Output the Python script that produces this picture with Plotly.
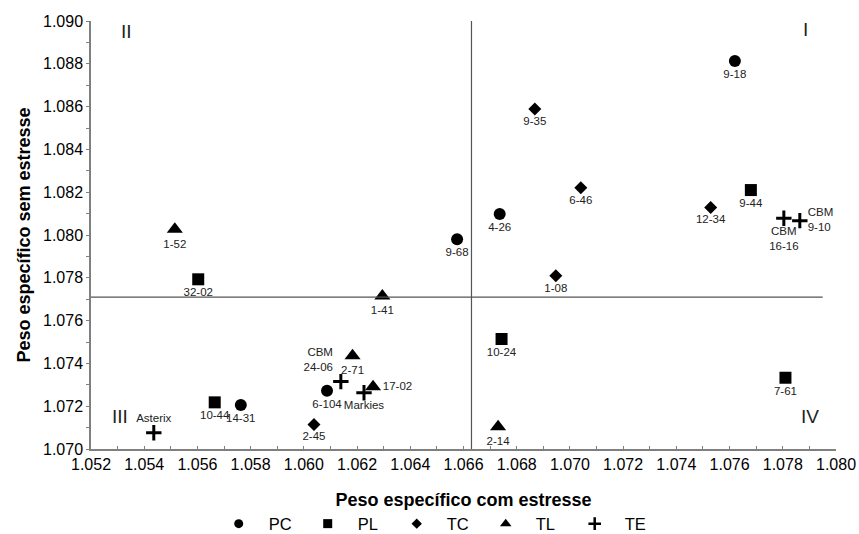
import plotly.graph_objects as go

# ---- data ----
pc_x = [1.0762, 1.06736, 1.06576, 1.05763, 1.06087]
pc_y = [1.08813, 1.08098, 1.0798, 1.07206, 1.07272]
pc_lbl = ["9-18", "4-26", "9-68", "14-31", "6-104"]

pl_x = [1.0768, 1.05603, 1.05665, 1.06743, 1.0781]
pl_y = [1.0821, 1.07793, 1.07218, 1.07514, 1.07333]
pl_lbl = ["9-44", "32-02", "10-44", "10-24", "7-61"]

tc_x = [1.06868, 1.07041, 1.07529, 1.06947, 1.06038]
tc_y = [1.08589, 1.08221, 1.08129, 1.0781, 1.07115]
tc_lbl = ["9-35", "6-46", "12-34", "1-08", "2-45"]

tl_x = [1.05515, 1.06295, 1.06183, 1.0626, 1.0673]
tl_y = [1.08027, 1.07715, 1.07436, 1.07291, 1.07104]
tl_lbl = ["1-52", "1-41", "2-71", "17-02", "2-14"]

te_x = [1.07864, 1.07804, 1.05436, 1.06139, 1.06226]
te_y = [1.08067, 1.08078, 1.07076, 1.07315, 1.07263]
te_lbl = ["CBM<br>9-10", "CBM<br>16-16", "Asterix", "CBM<br>24-06", "Markies"]

x_ref_line = 1.0663
y_ref_line = 1.0771

x_range = [1.052, 1.080]
y_range = [1.070, 1.090]

quadrants = [("II", 1.05334, 1.08949), ("I", 1.07886, 1.08958),
             ("III", 1.05308, 1.07151), ("IV", 1.07904, 1.07151)]

# ---- label placement (style) ----
label_pos = {
    "CBM<br>9-10": "middle right",
    "Asterix": "top center",
    "CBM<br>24-06": "top left",
    "17-02": "middle right",
}

FONT = "Liberation Sans, Arial, sans-serif"

# name, x, y, labels, symbol, size, legend size
series = [
    ("PC", pc_x, pc_y, pc_lbl, "circle", 12, 9),
    ("PL", pl_x, pl_y, pl_lbl, "square", 12, 9),
    ("TC", tc_x, tc_y, tc_lbl, "diamond", 10, 8),
    ("TL", tl_x, tl_y, tl_lbl, "triangle-up", 14, 10),
    ("TE", te_x, te_y, te_lbl, "cross-thin", 11, 9),
]

fig = go.Figure()

for name, xs, ys, lbls, sym, size, lsize in series:
    is_cross = sym == "cross-thin"
    fig.add_trace(go.Scatter(
        x=xs, y=ys, mode="markers+text", name=name,
        text=lbls,
        textposition=[label_pos.get(l, "bottom center") for l in lbls],
        textfont=dict(family=FONT, size=11.5, color="#222222"),
        marker=dict(symbol=sym, size=size, color="black",
                    line=dict(color="black", width=3 if is_cross else 0)),
        cliponaxis=False,
        showlegend=False,
    ))

for name, xs, ys, lbls, sym, size, lsize in series:
    is_cross = sym == "cross-thin"
    fig.add_trace(go.Scatter(
        x=[None], y=[None], mode="markers", name=name,
        marker=dict(symbol=sym, size=lsize, color="black",
                    line=dict(color="black", width=2.5 if is_cross else 0)),
        showlegend=True,
    ))

# reference lines
fig.add_shape(type="line", xref="x", yref="y", x0=x_ref_line, x1=x_ref_line,
              y0=y_range[0], y1=y_range[1], line=dict(color="#555555", width=1.2))
fig.add_shape(type="line", xref="x", yref="y", x0=x_range[0], x1=1.0795,
              y0=y_ref_line, y1=y_ref_line, line=dict(color="#555555", width=1.2))

for txt, qx, qy in quadrants:
    fig.add_annotation(x=qx, y=qy, xref="x", yref="y", text=txt, showarrow=False,
                       font=dict(family=FONT, size=19, color="#222222"))

fig.update_layout(
    width=859, height=534,
    margin=dict(l=91, r=23, t=21, b=85, autoexpand=False),
    paper_bgcolor="white", plot_bgcolor="white",
    font=dict(family=FONT, color="black"),
    legend=dict(orientation="h", x=0.158, y=-0.175, xanchor="left", yanchor="middle",
                font=dict(family=FONT, size=16.5, color="black"),
                itemwidth=50, entrywidth=24, entrywidthmode="pixels",
                itemsizing="trace", bgcolor="rgba(0,0,0,0)"),
    xaxis=dict(range=x_range, showgrid=False, zeroline=False, automargin=False,
               showline=True, linecolor="#808080", linewidth=1.5,
               ticks="inside", ticklen=3, tickcolor="#808080",
               tick0=1.052, dtick=0.002, tickformat=".3f",
               minor=dict(dtick=0.001, ticks="inside", ticklen=3, tickcolor="#808080"),
               tickfont=dict(family=FONT, size=16, color="black"),
               title=dict(text="<b>Peso específico com estresse</b>",
                          font=dict(family=FONT, size=18, color="black"), standoff=21)),
    yaxis=dict(range=y_range, showgrid=False, zeroline=False, automargin=False,
               showline=True, linecolor="#808080", linewidth=1.5,
               ticks="outside", ticklen=3, tickcolor="#808080",
               tick0=1.070, dtick=0.002, tickformat=".3f",
               minor=dict(dtick=0.001, ticks="outside", ticklen=3, tickcolor="#808080"),
               tickfont=dict(family=FONT, size=16, color="black"),
               title=dict(text="<b>Peso específico sem estresse</b>",
                          font=dict(family=FONT, size=18, color="black"), standoff=8)),
)

fig.write_html("out.html")
